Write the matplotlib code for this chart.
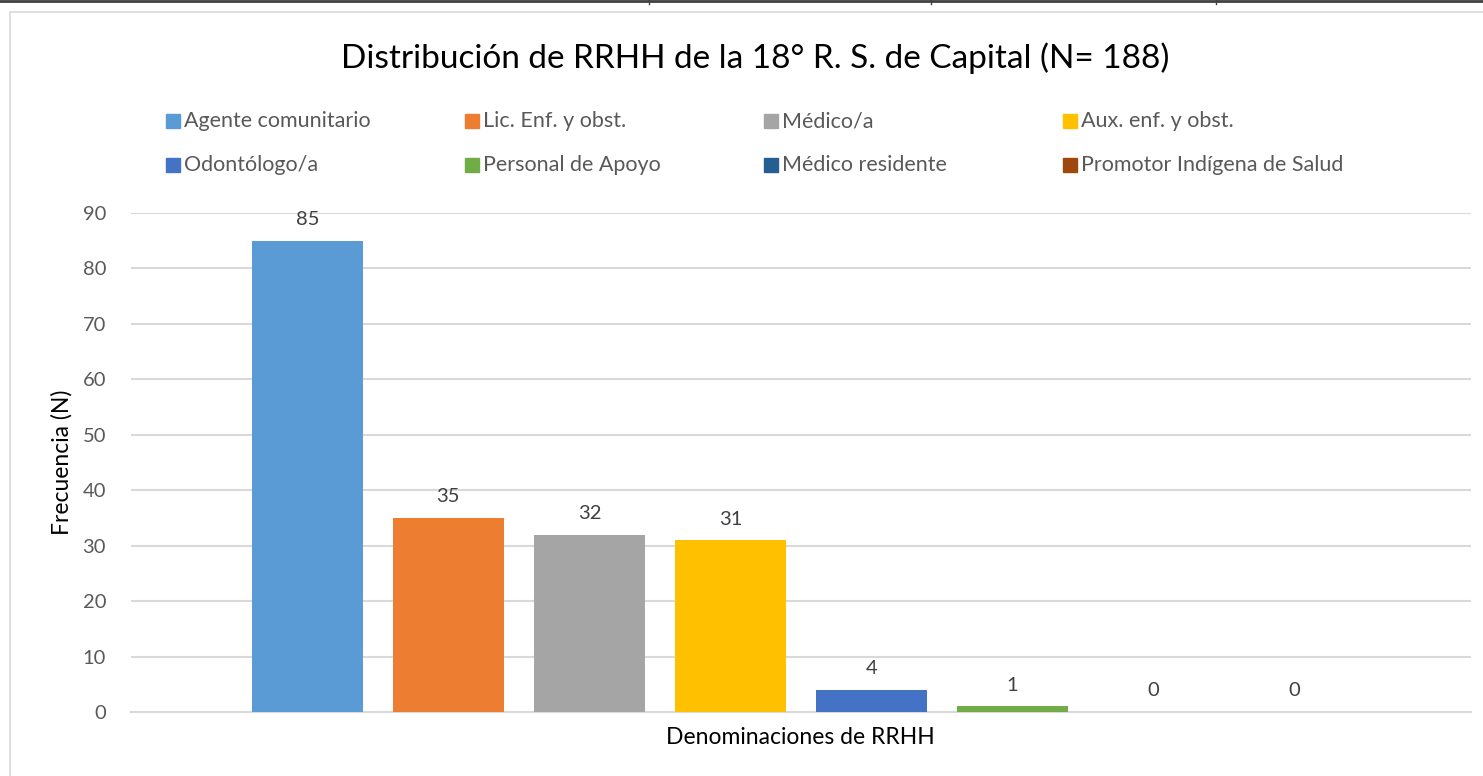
import matplotlib.pyplot as plt
from matplotlib.patches import Rectangle
from matplotlib.lines import Line2D

plt.rcParams['font.family'] = ['Lato', 'DejaVu Sans']

# data
categories = ['Agente comunitario', 'Lic. Enf. y obst.', 'Médico/a', 'Aux. enf. y obst.',
              'Odontólogo/a', 'Personal de Apoyo', 'Médico residente',
              'Promotor Indígena de Salud']
values = [85, 35, 32, 31, 4, 1, 0, 0]
colors = ['#5B9BD5', '#ED7D31', '#A5A5A5', '#FFC000',
          '#4472C4', '#70AD47', '#255E91', '#9E480E']
yticks = [0, 10, 20, 30, 40, 50, 60, 70, 80, 90]

W, H = 1483, 776
fig = plt.figure(figsize=(W / 100, H / 100), dpi=100)


def fx(px):
    return px / W


def fy(py):
    return 1 - py / H


# frame of the chart (extends beyond the picture on the right/bottom)
fig.add_artist(Rectangle((fx(10), fy(800)), fx(1500) - fx(10), fy(12) - fy(800),
                         transform=fig.transFigure, fill=False,
                         edgecolor='#D9D9D9', lw=1.2))
# leftover table border at the top
fig.add_artist(Line2D([0, 1], [fy(1), fy(1)], transform=fig.transFigure,
                      color='#404040', lw=2))
for xp in [649, 931, 1216]:
    fig.add_artist(Line2D([fx(xp), fx(xp)], [fy(0), fy(4)],
                          transform=fig.transFigure, color='#404040', lw=1))

ax = fig.add_axes([fx(131), fy(712), fx(1471) - fx(131), fy(213) - fy(712)])
x = list(range(len(values)))
ax.bar(x, values, width=0.787, color=colors, zorder=3)
for xi, v in zip(x, values):
    ax.annotate(str(v), (xi, v), xytext=(0, 9), textcoords='offset points',
                ha='center', va='bottom', fontsize=14.5, color='#404040')

ax.set_xlim(-1.25, 8.25)
ax.set_ylim(0, 90)
ax.set_yticks(yticks)
ax.set_xticks([])
ax.yaxis.grid(True, color='#D9D9D9', lw=1.5, zorder=0)
ax.tick_params(axis='y', length=0, pad=18, labelsize=14.5, labelcolor='#595959')
for s in ['top', 'right', 'left']:
    ax.spines[s].set_visible(False)
ax.spines['bottom'].set_color('#D9D9D9')
ax.spines['bottom'].set_linewidth(1.5)

fig.text(fx(800), fy(737), 'Denominaciones de RRHH', ha='center', va='center',
         fontsize=16.5, color='#000000')
fig.text(fx(62), fy(462), 'Frecuencia (N)', ha='center', va='center',
         rotation=90, fontsize=16.5, color='#000000')
fig.text(fx(755), fy(58), 'Distribución de RRHH de la 18° R. S. de Capital (N= 188)',
         ha='center', va='center', fontsize=24, color='#000000')

# legend, 2 rows x 4 columns
for i, (name, c) in enumerate(zip(categories, colors)):
    col, row = i % 4, i // 4
    px = 166 + 299 * col
    py = 121 + 44 * row
    fig.add_artist(Rectangle((fx(px), fy(py + 7)), fx(14), 14 / H,
                             transform=fig.transFigure, color=c))
    fig.text(fx(px + 18), fy(py), name, ha='left', va='center',
             fontsize=15.5, color='#595959')

fig.savefig('out.png', dpi=100)
